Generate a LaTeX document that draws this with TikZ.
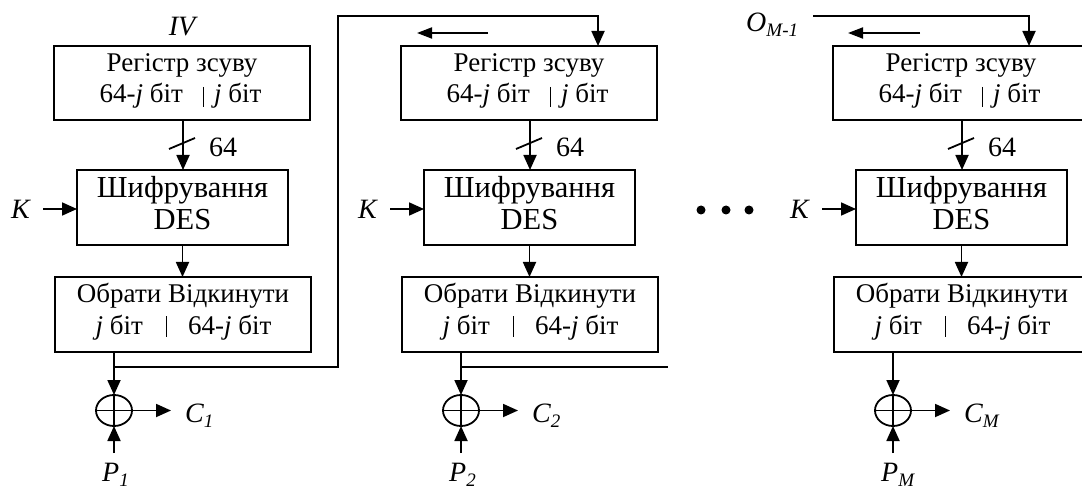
\documentclass[tikz,border=0pt]{standalone}
\usepackage{fontspec}
\setmainfont{Liberation Serif}
\usetikzlibrary{arrows.meta,shapes.geometric}
\newcommand{\mysub}[1]{\raisebox{-5pt}{\fontsize{19}{19}\selectfont\itshape #1}}
\tikzset{
 box/.style={draw, line width=1.8pt, inner sep=0pt, outer sep=0pt},
 arr/.style={line width=1.8pt, -{Triangle[length=15pt,width=13pt]}},
 larr/.style={line width=1.8pt, -{Triangle[length=15pt,width=11pt]}},
 ln/.style={line width=1.8pt},
 sepline/.style={line width=1pt},
 txt/.style={inner sep=0pt, anchor=base, font=\fontsize{27}{30}\selectfont},
 big/.style={inner sep=0pt, anchor=base, font=\fontsize{30.5}{33}\selectfont},
 lbl/.style={inner sep=0pt, anchor=base west, font=\fontsize{28}{30}\selectfont\itshape},
 num/.style={inner sep=0pt, anchor=base west, font=\fontsize{28}{30}\selectfont},
 xorc/.style={ellipse, draw, line width=1.8pt, minimum width=36pt, minimum height=31pt, inner sep=0pt, outer sep=0pt},
 dotc/.style={circle, fill, minimum size=9pt, inner sep=0pt}
}
\begin{document}
\begin{tikzpicture}[x=1pt,y=-1pt]
\useasboundingbox (0,0) rectangle (1082,489);
\clip (0,0) rectangle (1082,489);
\foreach \o/\i/\s in {0/1/1,347/2/2,779/3/M}{
  % shift register
  \node[box, minimum width=256pt, minimum height=74pt] (r\i) at (\o+182,83) {};
  \node[txt] (rt\i) at (\o+182,72) {Регістр зсуву};
  \node[txt, anchor=base east] (rl\i) at (\o+183,103) {64-\textit{j} біт};
  \node[txt, anchor=base west] (rr\i) at (\o+214,103) {\textit{j} біт};
  \draw[sepline] (\o+203,87) -- (\o+203,107);
  % encryption
  \node[box, minimum width=211pt, minimum height=75pt] (e\i) at (\o+182.5,207.5) {};
  \node[big] (et\i) at (\o+182.5,198) {Шифрування};
  \node[big] (ed\i) at (\o+182.5,230) {DES};
  % select
  \node[box, minimum width=256pt, minimum height=75pt] (s\i) at (\o+183,314.5) {};
  \node[txt] (st\i) at (\o+183,302) {Обрати Відкинути};
  \node[txt, anchor=base east] (sl\i) at (\o+143,334) {\textit{j} біт};
  \node[txt, anchor=base west] (sr\i) at (\o+188,334) {64-\textit{j} біт};
  \draw[sepline] (\o+166,316) -- (\o+166,337);
  % reg -> enc
  \draw[arr] (\o+183,120) -- (\o+183,170);
  \draw[ln] (\o+169,149) -- (\o+195,138);
  \node[num] (n\i) at (\o+209,157) {64};
  % enc -> sel
  \draw[arr] (e\i.south) -- (e\i.south |- s\i.north);
  % key
  \node[lbl] (k\i) at (\o+11,219) {K};
  \coordinate (ks\i) at (\o+43,209);
  \draw[arr] (ks\i) -- (ks\i -| e\i.west);
  % xor
  \node[xorc] (x\i) at (\o+114,410.5) {};
  \draw[line width=1.5pt] (x\i.north) -- (x\i.south) (x\i.west) -- (x\i.east);
  \draw[arr] (x\i |- s\i.south) -- (x\i.north);
  % output
  \node[lbl] (c\i) at (\o+185,422) {C\mysub{\s}};
  \coordinate (ce\i) at (\o+171,410.5);
  \draw[arr] (x\i.east) -- (ce\i);
  % plaintext
  \node[lbl] (p\i) at (\o+102,481) {P\mysub{\s}};
  \coordinate (ps\i) at (\o+114,453);
  \draw[arr] (ps\i) -- (x\i.south);
}
% IV label
\node[lbl, anchor=base] (iv) at (182,36) {IV};
% feedback from column 1 to column 2
\coordinate (j1) at (114,367);
\coordinate (fbtop) at (338,16);
\coordinate (in2) at (598,46);
\draw[arr] (j1) -| (fbtop) -| (in2);
% column 2 feedback (open)
\coordinate (j2) at (461,367);
\coordinate (j2end) at (668,367);
\draw[ln] (j2) -- (j2end);
% O_{M-1}
\node[lbl] (om) at (746,32) {O\mysub{M-1}};
\coordinate (omstart) at (813,16);
\coordinate (in3) at (1029,46);
\draw[arr] (omstart) -| (in3);
% shift direction arrows
\coordinate (sa2) at (488,33);
\coordinate (sb2) at (417,33);
\draw[larr] (sa2) -- (sb2);
\coordinate (sa3) at (920,33);
\coordinate (sb3) at (848,33);
\draw[larr] (sa3) -- (sb3);
% dots
\node[dotc] (d1) at (701,210) {};
\node[dotc] (d2) at (726,210) {};
\node[dotc] (d3) at (749,210) {};
\end{tikzpicture}
\end{document}
